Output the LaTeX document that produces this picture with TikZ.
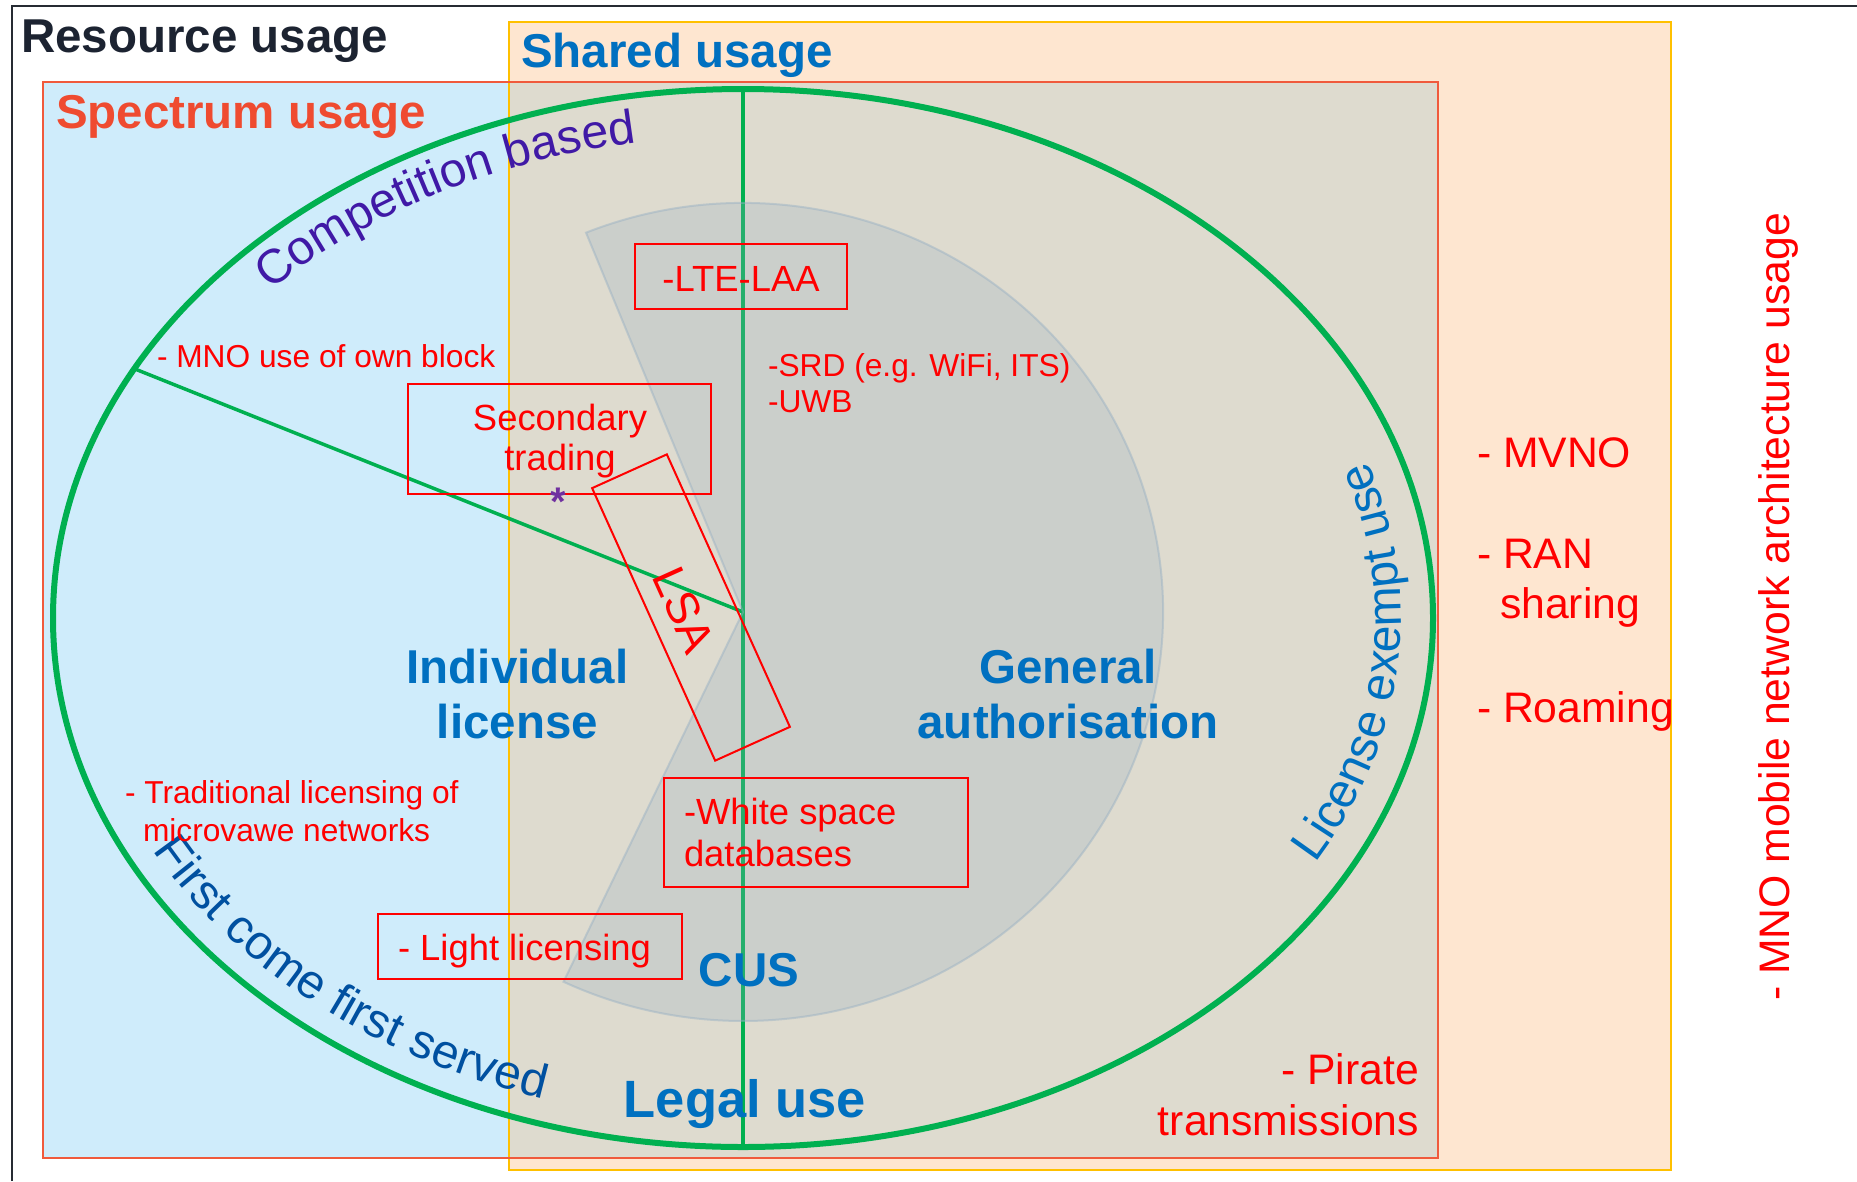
\documentclass[tikz,border=0pt]{standalone}
\usepackage{fontspec}
\setmainfont{Liberation Sans}
\usetikzlibrary{decorations.text}

\definecolor{frameInk}{HTML}{262B33}
\definecolor{titleInk}{HTML}{1C2331}
\definecolor{specRed}{HTML}{EF4B30}
\definecolor{specEdge}{HTML}{F05A3C}
\definecolor{specFill}{HTML}{CFECFB}
\definecolor{shareGold}{HTML}{FFC000}
\definecolor{shareFill}{HTML}{FEE6D0}
\definecolor{bothFill}{HTML}{DEDBCF}
\definecolor{cusGray}{RGB}{150,175,195}
\definecolor{ringGreen}{HTML}{00B050}
\definecolor{noteRed}{HTML}{FF0000}
\definecolor{labelBlue}{HTML}{0070C0}
\definecolor{fcfsBlue}{HTML}{0050A0}
\definecolor{compViolet}{HTML}{4019A6}
\definecolor{starViolet}{HTML}{7030A0}

\newcommand\sizeTitle{\fontsize{47.5bp}{55bp}\selectfont}
\newcommand\sizeLegal{\fontsize{52.5bp}{58bp}\selectfont}
\newcommand\sizeArc{\fontsize{48bp}{52bp}\selectfont}
\newcommand\sizeSide{\fontsize{42.7bp}{50bp}\selectfont}
\newcommand\sizeBox{\fontsize{36.4bp}{40bp}\selectfont}
\newcommand\sizeNote{\fontsize{31.7bp}{38bp}\selectfont}

\begin{document}
\begin{tikzpicture}[x=1bp, y=-1bp,
  every node/.style={inner sep=0pt, outer sep=0pt},
  title/.style={font=\bfseries\sizeTitle},
  bluelabel/.style={text=labelBlue, font=\bfseries\sizeTitle},
  note/.style={text=noteRed, font=\sizeNote},
  boxtext/.style={text=noteRed, font=\sizeBox},
  sidetext/.style={text=noteRed, font=\sizeSide},
  redbox/.style={draw=noteRed, line width=2bp},
  arctext/.style={decorate, shift={(743,618)}},
]
% canvas
\useasboundingbox (0,0) rectangle (1857,1181);
\fill[white] (0,0) rectangle (1857,1181);
\draw[frameInk, line width=2.5bp] (12,1181) -- (12,6) -- (1857,6);

% spectrum usage and shared usage areas
\fill[specFill] (43,82) rectangle (1438,1158);
\fill[shareFill] (509,22) rectangle (1671,1170);
\fill[bothFill] (509,82) rectangle (1438,1158);
\draw[shareGold, line width=2.5bp] (509,22) rectangle (1671,1170);
\draw[specEdge, line width=2.5bp] (43,82) rectangle (1438,1158);

% legal use ring and its dividers
\coordinate (core) at (743,612);
\coordinate (rimW) at (135,369);
\coordinate (rimTop) at (743,89);
\coordinate (rimBot) at (743,1147);
\draw[ringGreen, line width=3.5bp] (rimW) -- (core);
\draw[ringGreen, line width=4bp] (rimTop) -- (rimBot);
\draw[ringGreen, line width=6bp] (743,618) ellipse[x radius=690, y radius=529];

% CUS sector
\path[fill=cusGray, fill opacity=0.25, draw=cusGray, draw opacity=0.45, line width=2bp]
  (core) -- +(-111.95:420 and 409)
  arc[start angle=-111.95, end angle=115.3, x radius=420, y radius=409] -- cycle;

% titles
\node[title, text=titleInk, anchor=base west] (resTitle) at (21,52) {Resource usage};
\node[title, text=labelBlue, anchor=base west] (shTitle) at (521,67) {Shared usage};
\node[title, text=specRed, anchor=base west] (spTitle) at (56,128) {Spectrum usage};

% texts along the ring
\path[arctext, decoration={text along path, text={|\sizeArc\color{compViolet}|Competition based}}]
  (-137.3:643 and 482) arc[start angle=-137.3, end angle=-80, x radius=643, y radius=482];
\path[arctext, decoration={text along path, text={|\sizeArc\color{fcfsBlue}|First come first served}}]
  (152.5:665 and 504) arc[start angle=152.5, end angle=85, x radius=665, y radius=504];
\path[arctext, decoration={text along path, text={|\sizeArc\color{labelBlue}|License exempt use}}]
  (29.6:658 and 497) arc[start angle=29.6, end angle=-45, x radius=658, y radius=497];

% notes
\node[note, anchor=base west] (mnoOwn) at (157,367) {- MNO use of own block};
\node[note, anchor=base west] (tradA) at (125,803) {- Traditional licensing of};
\node[note, anchor=base west] (tradB) at (143,841) {microvawe networks};
\node[note, anchor=base west] (srd) at (768,376) {-SRD (e.g. WiFi, ITS)};
\node[note, anchor=base west] (uwb) at (768,412) {-UWB};

% boxed notes
\node[redbox, minimum width=212bp, minimum height=65bp] (lteBox) at (741,276.5) {};
\node[boxtext, anchor=base] (lteTxt) at (741,291) {-LTE-LAA};

\node[redbox, minimum width=303bp, minimum height=110bp] (secBox) at (559.5,439) {};
\node[boxtext, anchor=base] (secA) at (560,430) {Secondary};
\node[boxtext, anchor=base] (secB) at (560,470) {trading};
\node[text=starViolet, font=\bfseries\fontsize{40bp}{40bp}\selectfont, anchor=base] (star) at (558,515) {*};

\node[redbox, minimum width=299bp, minimum height=82bp, rotate=-65.7] (lsaBox) at (691,607.5) {};
\node[text=noteRed, font=\fontsize{46bp}{50bp}\selectfont, rotate=-65.7] (lsaTxt) at (684,610) {LSA};

\node[redbox, minimum width=304bp, minimum height=109bp] (wsBox) at (816,832.5) {};
\node[boxtext, anchor=base west] (wsA) at (684,824) {-White space};
\node[boxtext, anchor=base west] (wsB) at (684,866) {databases};

\node[redbox, minimum width=304bp, minimum height=65bp] (lightBox) at (530,946.5) {};
\node[boxtext, anchor=base west] (lightTxt) at (398,960) {- Light licensing};

% area labels
\node[bluelabel, anchor=base] (indivA) at (517.5,683) {Individual};
\node[bluelabel, anchor=base] (indivB) at (517.5,738) {license};
\node[bluelabel, anchor=base] (genA) at (1068,683) {General};
\node[bluelabel, anchor=base] (genB) at (1068,738) {authorisation};
\node[bluelabel, anchor=base] (cus) at (749,986) {CUS};
\node[text=labelBlue, font=\bfseries\sizeLegal, anchor=base] (legal) at (745,1117) {Legal use};

% architecture usage
\node[sidetext, anchor=base west] (mvno) at (1477,467) {- MVNO};
\node[sidetext, anchor=base west] (ranA) at (1477,568) {- RAN};
\node[sidetext, anchor=base west] (ranB) at (1500,618) {sharing};
\node[sidetext, anchor=base west] (roam) at (1477,722) {- Roaming};
\node[sidetext, anchor=base east] (pirA) at (1419,1084) {- Pirate};
\node[sidetext, anchor=base east] (pirB) at (1419,1135) {transmissions};
\node[sidetext, rotate=90, anchor=base] (mnoArch) at (1789,607) {- MNO mobile network architecture usage};
\end{tikzpicture}
\end{document}
